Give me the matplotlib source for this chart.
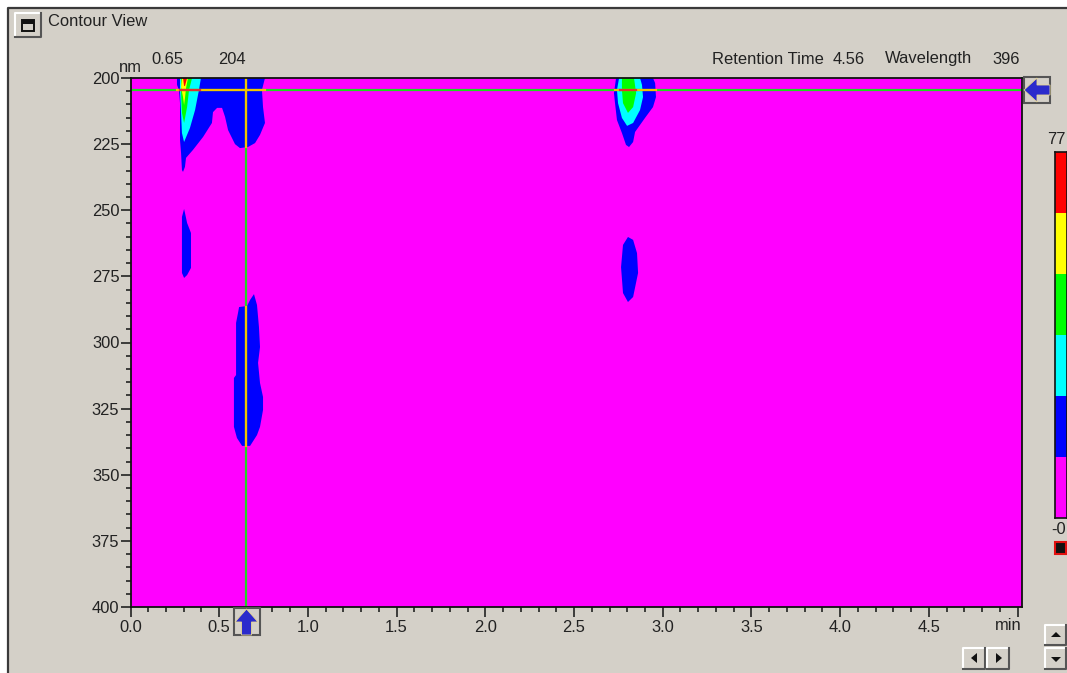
import numpy as np
import matplotlib
matplotlib.use("Agg")
import matplotlib.pyplot as plt
from matplotlib.colors import ListedColormap
from matplotlib.patches import Rectangle, Polygon

plt.rcParams["font.family"] = ["Liberation Sans", "DejaVu Sans"]

# contour bands, low to high
band_colors = ["#ff00ff", "#0000ff", "#00ffff", "#00ff00", "#ffff00", "#ff0000"]
scale_max = "77"
scale_min = "-0"

# contour outlines: retention time (min), wavelength (nm)
blue_a_t = [0.262, 0.262, 0.273, 0.279, 0.279, 0.285, 0.290, 0.296, 0.307, 0.313, 0.352, 0.409, 0.459, 0.465,
            0.488, 0.516, 0.533, 0.550, 0.589, 0.617, 0.662, 0.702, 0.730, 0.758, 0.747, 0.741, 0.758]
blue_a_nm = [200, 202.6, 204.5, 209.5, 223.4, 228.4, 234.8, 235.5, 233.6, 230.2, 227.2, 222.3, 217, 212.9,
             211.3, 211.3, 214.7, 219.7, 225, 226.5, 226.1, 224.6, 221.5, 217, 211, 204.5, 200]
cyan_a_t = [0.279, 0.397, 0.386, 0.364, 0.335, 0.302, 0.290, 0.285, 0.279]
cyan_a_nm = [200, 200, 204.5, 212.1, 218.9, 224.2, 220.8, 213.2, 204.5]
green_a_t = [0.285, 0.347, 0.330, 0.319, 0.302, 0.290, 0.285]
green_a_nm = [200, 200, 204.5, 211, 217, 213.2, 205.7]
yellow_a_t = [0.290, 0.324, 0.313, 0.307, 0.302, 0.296, 0.285]
yellow_a_nm = [200, 200, 203.8, 207.6, 210.2, 207.2, 203.4]
red_a_t = [0.296, 0.319, 0.307, 0.302]
red_a_nm = [200, 200, 203, 203]

blue_b_t = [2.737, 2.725, 2.731, 2.742, 2.770, 2.793, 2.810, 2.833, 2.844, 2.900, 2.945, 2.962, 2.957, 2.945]
blue_b_nm = [200, 205.7, 209.5, 215.9, 220.8, 225.3, 226.1, 224.2, 220.4, 215.1, 211, 207.2, 201.9, 200]
cyan_b_t = [2.754, 2.742, 2.748, 2.770, 2.799, 2.833, 2.872, 2.889, 2.883, 2.872]
cyan_b_nm = [200, 204.5, 209.5, 215.1, 218.1, 217, 212.1, 207.2, 202.6, 200]
green_b_t = [2.770, 2.770, 2.776, 2.804, 2.833, 2.850, 2.838]
green_b_nm = [200, 204.5, 209.5, 213.2, 211, 205.7, 200]

blue_c_t = [2.804, 2.776, 2.765, 2.776, 2.804, 2.833, 2.861, 2.855, 2.833]
blue_c_nm = [260.1, 263.1, 271.5, 281.3, 284.7, 282.8, 273.7, 266.2, 261.2]
blue_d_t = [0.302, 0.290, 0.290, 0.302, 0.319, 0.341, 0.341, 0.319, 0.307]
blue_d_nm = [249.5, 252.5, 273.7, 275.6, 274.5, 271.8, 258.6, 254.8, 251]
blue_e_t = [0.696, 0.674, 0.657, 0.612, 0.606, 0.595, 0.595, 0.583, 0.583, 0.600, 0.629, 0.674,
            0.713, 0.730, 0.747, 0.747, 0.730, 0.719, 0.730, 0.724, 0.713]
blue_e_nm = [281.7, 283.9, 286.2, 286.6, 288.8, 292.6, 312.3, 313.4, 331.9, 336.1, 339.1, 339.1,
             335, 331.9, 325.5, 320.6, 315.3, 307.7, 301.7, 294.1, 285.8]

contours = [
    (blue_a_t, blue_a_nm, 1), (cyan_a_t, cyan_a_nm, 2), (green_a_t, green_a_nm, 3),
    (yellow_a_t, yellow_a_nm, 4), (red_a_t, red_a_nm, 5),
    (blue_b_t, blue_b_nm, 1), (cyan_b_t, cyan_b_nm, 2), (green_b_t, green_b_nm, 3),
    (blue_c_t, blue_c_nm, 1), (blue_d_t, blue_d_nm, 1), (blue_e_t, blue_e_nm, 1),
]

# cursor position
cursor_t = 0.65
cursor_nm = 204.6
cursor_yellow_nm = [(200, 226), (286.5, 339)]
cursor_yellow_t = [(0.26, 0.76), (2.73, 2.96)]
cursor_red_t = [(0.28, 0.39), (2.76, 2.85)]

x_ticks = [0.0, 0.5, 1.0, 1.5, 2.0, 2.5, 3.0, 3.5, 4.0, 4.5, 5.0]
x_labels = ["0.0", "0.5", "1.0", "1.5", "2.0", "2.5", "3.0", "3.5", "4.0", "4.5", ""]
y_ticks = [200, 225, 250, 275, 300, 325, 350, 375, 400]

W = 1067
H = 673
BG = "#d4d0c8"
TXT = "#222222"
FS = 11.9

fig = plt.figure(figsize=(W / 100, H / 100), dpi=100, facecolor=BG)

# main plot
ax = fig.add_axes([130.5 / W, 1 - 607 / H, 891.5 / W, 529 / H], facecolor=band_colors[0])
for t, nm, band in contours:
    ax.fill(t, nm, color=band_colors[band], lw=0)
ax.set_xticks(x_ticks, x_labels)
ax.set_xticks(np.arange(0, 5.01, 0.1), minor=True)
ax.set_yticks(y_ticks)
ax.set_yticks(np.arange(200, 401, 5), minor=True)
ax.tick_params(which="major", length=7, width=1.2, labelsize=FS, colors=TXT)
ax.tick_params(axis="x", which="major", pad=2)
ax.tick_params(axis="y", which="major", pad=1)
ax.tick_params(which="minor", length=3.5, width=1.2, colors=TXT)
for s in ax.spines.values():
    s.set_linewidth(1.3)
    s.set_color("#111111")

ax.axvline(cursor_t, color="#22d622", lw=1.6)
ax.axhline(cursor_nm, color="#22d622", lw=1.6)
for a, b in cursor_yellow_nm:
    ax.plot([cursor_t, cursor_t], [a, b], color="#f2c400", lw=1.6)
for a, b in cursor_yellow_t:
    ax.plot([a, b], [cursor_nm, cursor_nm], color="#f2c400", lw=1.6)
for a, b in cursor_red_t:
    ax.plot([a, b], [cursor_nm, cursor_nm], color="#e03030", lw=1.6)
ax.set_xlim(0, 5.025)
ax.set_ylim(400, 200)

# colour scale
cax = fig.add_axes([1054.5 / W, 1 - 518 / H, 12 / W, 366 / H])
cax.imshow(np.arange(len(band_colors))[::-1].reshape(-1, 1), cmap=ListedColormap(band_colors), aspect="auto",
           interpolation="nearest")
cax.set_xticks([])
cax.set_yticks([])
for s in cax.spines.values():
    s.set_linewidth(1.2)
    s.set_color("#111111")

# window bits, in pixels
ui = fig.add_axes([0, 0, 1, 1], facecolor="none", zorder=5)
ui.set_xlim(0, W)
ui.set_ylim(H, 0)
ui.axis("off")

ui.add_patch(Rectangle((0, 0), W, 7, color="white", lw=0))
ui.add_patch(Rectangle((0, 0), 8, H, color="white", lw=0))
ui.plot([8, 8, W], [H, 7.5, 7.5], color="#3a3a3a", lw=1.6)


def button(x0, y0, x1, y1):
    ui.add_patch(Rectangle((x0, y0), x1 - x0, y1 - y0, color=BG, lw=0))
    ui.plot([x0, x0, x1], [y1, y0, y0], color="white", lw=1.5)
    ui.plot([x0, x1, x1], [y1, y1, y0], color="#555555", lw=1.5)


button(15, 13, 41, 37)
ui.add_patch(Rectangle((22, 20), 12, 10.5, fill=False, ec="#111111", lw=1.4))
ui.add_patch(Rectangle((22, 20), 12, 3.5, color="#111111", lw=0))

button(963, 648, 985, 669)
button(987, 648, 1009, 669)
button(1045, 625, 1066, 645)
button(1045, 648, 1066, 669)
ui.add_patch(Polygon([(977, 653), (977, 663), (971, 658)], color="#111111", lw=0))
ui.add_patch(Polygon([(996, 653), (996, 663), (1002, 658)], color="#111111", lw=0))
ui.add_patch(Polygon([(1051, 637), (1061, 637), (1056, 632)], color="#111111", lw=0))
ui.add_patch(Polygon([(1051, 657), (1061, 657), (1056, 662)], color="#111111", lw=0))

# cursor handles
ui.add_patch(Rectangle((1023.5, 77), 26.5, 26, fc=BG, ec="#555555", lw=1.5))
ui.add_patch(Polygon([(1024, 90), (1037, 78), (1037, 85), (1050, 85), (1050, 95), (1037, 95), (1037, 102)],
                     fc="#2b2bcc", ec="#e8d890", lw=0.6))
ui.add_patch(Rectangle((233.5, 608), 26.5, 27, fc=BG, ec="#555555", lw=1.5))
ui.add_patch(Polygon([(246.5, 609), (258, 622), (251.5, 622), (251.5, 635), (241.5, 635), (241.5, 622), (235, 622)],
                     fc="#2b2bcc", ec="#e8d890", lw=0.6))

# red marker under the scale
ui.add_patch(Rectangle((1054.5, 541.5), 11, 12, fc="#111111", ec="#e01010", lw=1.5))

txt = dict(fontsize=FS, color=TXT, va="center")
ui.text(48, 22, "Contour View", ha="left", **txt)
ui.text(119, 68, "nm", ha="left", **txt)
ui.text(167, 59, "0.65", ha="center", **txt)
ui.text(232, 59, "204", ha="center", **txt)
ui.text(712, 59, "Retention Time", ha="left", **txt)
ui.text(849, 59, "4.56", ha="center", **txt)
ui.text(885, 59, "Wavelength", ha="left", **txt)
ui.text(1006, 59, "396", ha="center", **txt)
ui.text(1056, 140, scale_max, ha="center", **txt)
ui.text(1059, 530, scale_min, ha="center", **txt)
ui.text(1008, 625, "min", ha="center", **txt)

fig.savefig("out.png", dpi=100, facecolor=BG)
